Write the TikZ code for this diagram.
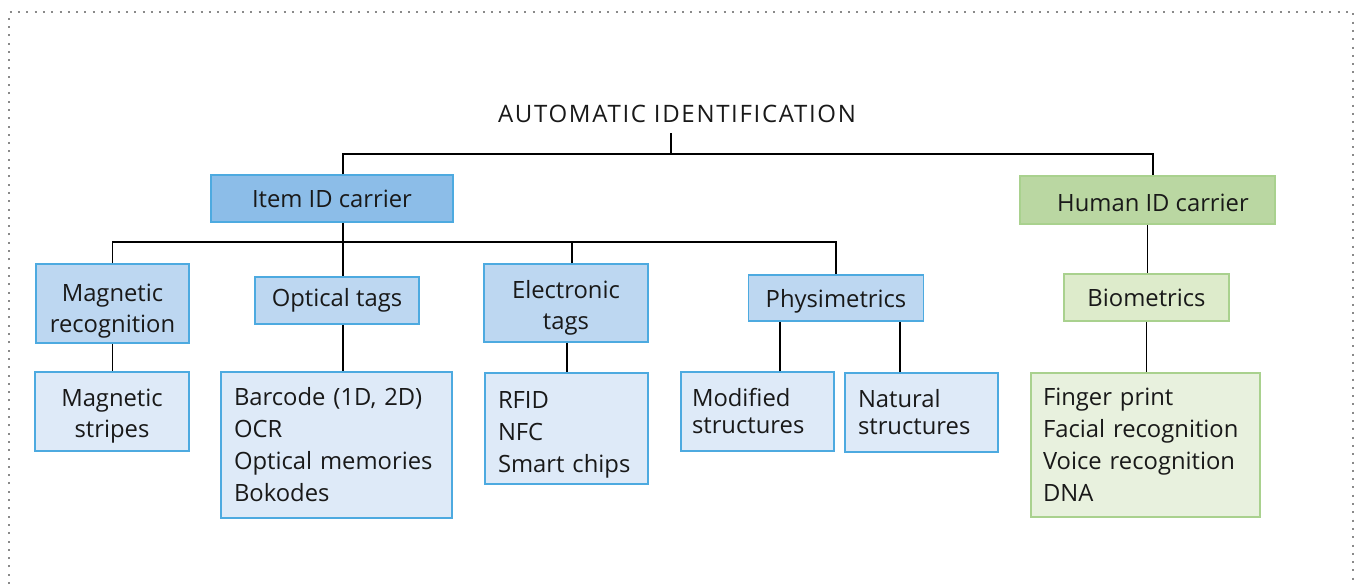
\documentclass[tikz,border=0pt]{standalone}
\usepackage{fontspec}
\setmainfont{Open Sans}
\newfontfamily\titlefont[LetterSpace=7]{Open Sans}
\usetikzlibrary{calc}

\definecolor{itemfill}{HTML}{8CBDE8}
\definecolor{bluefill}{HTML}{BDD7F1}
\definecolor{palefill}{HTML}{DEEAF8}
\definecolor{blueline}{HTML}{4DAAE0}
\definecolor{humanfill}{HTML}{BAD7A2}
\definecolor{biofill}{HTML}{DDEBCB}
\definecolor{greenpale}{HTML}{E8F1DE}
\definecolor{greenline}{HTML}{A9D18E}
\definecolor{framegray}{HTML}{8A8A8A}

% a strut on the first line that lowers a centred text block by #1
\newcommand\lowerby[1]{\rule{0pt}{\dimexpr 17.5pt + 2\dimexpr #1\relax\relax}}

\tikzset{
  box/.style={draw, line width=1.5pt, inner sep=0pt, align=center,
    font=\fontsize{23.8}{31}\selectfont, text=black!90},
  listbox/.style={draw, line width=1.5pt, inner xsep=13pt, inner ysep=0pt,
    align=left, font=\fontsize{23.8}{32}\selectfont, text=black!90},
  tightlist/.style={listbox, font=\fontsize{23.8}{27}\selectfont},
  bluebox/.style={box, fill=bluefill, draw=blueline},
  link/.style={line width=1.8pt, black}
}

\begin{document}
\begin{tikzpicture}[x=1pt, y=-1pt]
\useasboundingbox (0,0) rectangle (1356,584);

% dotted frame (open at the bottom)
\draw[framegray, line width=2pt, dash pattern=on 2pt off 6.3pt]
  (9,584) -- (9,12) -- (1353,12) -- (1353,584);

% title
\node[inner xsep=0pt, inner ysep=10pt, font=\titlefont\fontsize{24}{28}\selectfont, text=black!90]
  (title) at (677,114) {AUTOMATIC IDENTIFICATION};

% first level
\node[box, fill=itemfill, draw=blueline, minimum width=242pt, minimum height=47pt]
  (item) at (332,198.5) {Item ID carrier};
\node[box, fill=humanfill, draw=greenline, minimum width=255pt, minimum height=48pt]
  (human) at (1147.5,200) {\hspace*{11pt}\lowerby{3pt}Human ID carrier};

% second level
\node[bluebox, minimum width=153pt, minimum height=79pt]
  (magrec) at (112.5,303.5) {\lowerby{8pt}Magnetic\\recognition};
\node[bluebox, minimum width=164pt, minimum height=47pt]
  (optical) at (337,300.5) {Optical tags};
\node[bluebox, minimum width=164pt, minimum height=78pt]
  (electronic) at (566,303) {\lowerby{5pt}Electronic\\tags};
\node[bluebox, minimum width=175pt, minimum height=46pt]
  (physi) at (836,298) {\lowerby{4pt}Physimetrics};
\node[box, fill=biofill, draw=greenline, minimum width=165pt, minimum height=47pt]
  (biom) at (1146.5,297.5) {Biometrics};

% third level
\node[box, fill=palefill, draw=blueline, minimum width=154pt, minimum height=79pt]
  (magstripes) at (112,411.5) {\lowerby{5pt}Magnetic\\stripes};
\node[listbox, fill=palefill, draw=blueline, text width=205pt, minimum height=146pt]
  (barcode) at (336.5,445) {Barcode (1D, 2D)\\OCR\\Optical memories\\Bokodes};
\node[listbox, fill=palefill, draw=blueline, text width=137pt, minimum height=111pt]
  (rfid) at (566.5,428.5) {\lowerby{6pt}RFID\\NFC\\Smart chips};
\node[tightlist, fill=palefill, draw=blueline, inner xsep=11pt, text width=131pt, minimum height=79pt]
  (modified) at (757.5,411.5) {Modified\\structures};
\node[tightlist, fill=palefill, draw=blueline, text width=127pt, minimum height=79pt]
  (natural) at (921.5,412.5) {Natural\\structures};
\node[listbox, fill=greenpale, draw=greenline, inner xsep=12pt, text width=205pt, minimum height=144pt]
  (finger) at (1145.5,445) {Finger print\\Facial recognition\\Voice recognition\\DNA};

% connectors
\coordinate (bus1) at (671,154);
\coordinate (bus2) at (343,242);
\draw[link] ([xshift=-6pt]title.south) -- (bus1);
\draw[link] ([xshift=11pt]item.north) -- ([xshift=11pt]item.north |- bus1)
  -| ([xshift=5.5pt]human.north);
\draw[link] ([xshift=11pt]item.south) -- ([xshift=6pt]optical.north);
\draw[link] (magrec.north) |- (bus2) -| (physi.north);
\draw[link] ([xshift=6pt]electronic.north) -- ([xshift=6pt]electronic.north |- bus2);
\draw[link] (human.south) -- (human.south |- biom.north);

\draw[link] (magrec.south) -- (magrec.south |- magstripes.north);
\draw[link] ([xshift=6pt]optical.south) -- ([xshift=6pt]optical.south |- barcode.north);
\draw[link] ([xshift=1pt]electronic.south) -- ([xshift=1pt]electronic.south |- rfid.north);
\draw[link] ([xshift=22.5pt]modified.north) -- ([xshift=22.5pt]modified.north |- physi.south);
\draw[link] ([xshift=-21.5pt]natural.north) -- ([xshift=-21.5pt]natural.north |- physi.south);
\draw[link] (biom.south) -- (biom.south |- finger.north);
\end{tikzpicture}
\end{document}
